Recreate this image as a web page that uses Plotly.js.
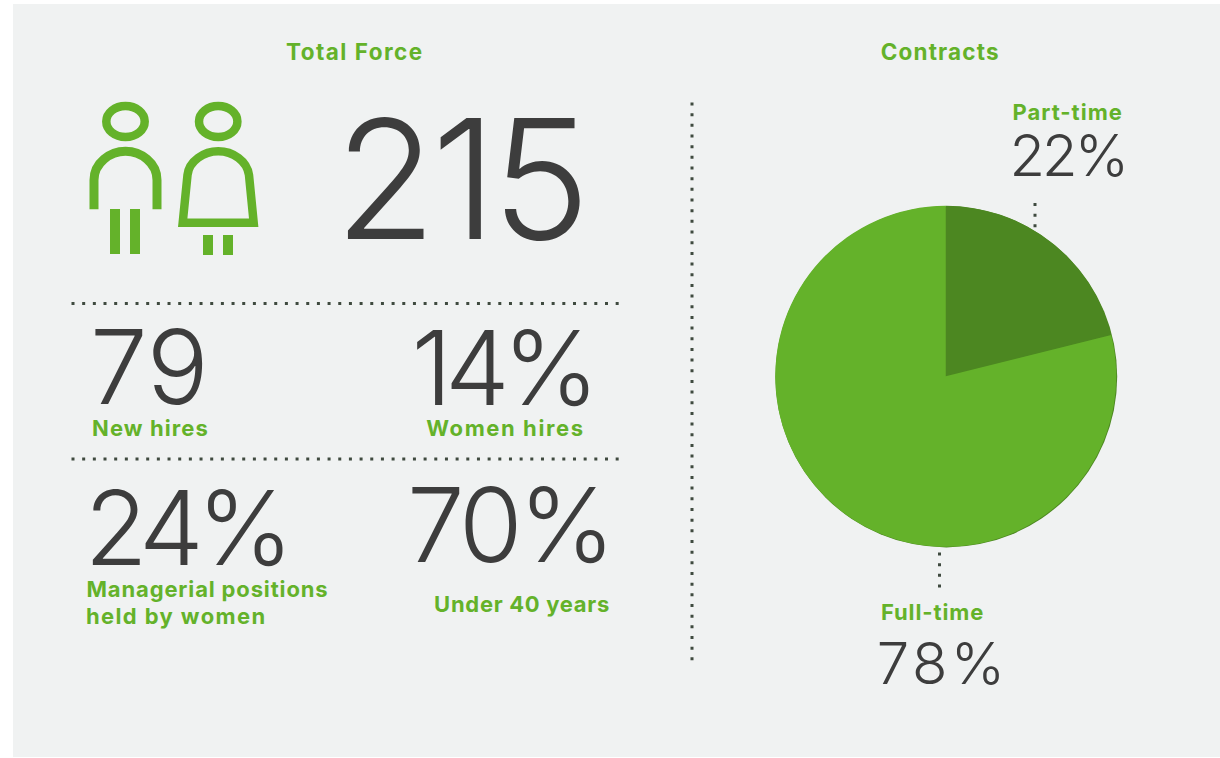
<!DOCTYPE html>
<html>
<head>
<meta charset="utf-8">
<script src="https://cdn.plot.ly/plotly-3.0.1.min.js"></script>
<style>
html,body{margin:0;padding:0;background:#fff;}
#chart{width:1220px;height:758px;}
</style>
</head>
<body>
<div id="chart"></div>
<script>
const pieCategories = ["Part-time", "Full-time"];
const pieValues = [21.1, 78.9];
const pieLabels = ["22%", "78%"];
const sectionTitles = ["Total Force", "Contracts"];
const totalForce = "215";
const statValues = ["79", "14%", "24%", "70%"];
const statLabels = ["New hires", "Women hires", "Managerial positions", "held by women", "Under 40 years"];

const GREEN = "#64B22A", DARK = "#4C8721", INK = "#3D3D3D", BG = "#F0F2F2";
const W = 1220, H = 758;
const FONT = "Inter, 'Open Sans', sans-serif";

function big(text, x, y, size, ls) {
  return {text, x, y, xref:"x", yref:"y", xanchor:"center", yanchor:"middle", showarrow:false,
    font:{family:FONT, size, color:INK, weight:300}, _ls:ls};
}
function label(text, x, y, ls, size) {
  return {text, x, y, xref:"x", yref:"y", xanchor:"center", yanchor:"middle", showarrow:false,
    font:{family:FONT, size:size||22, color:GREEN, weight:700}, _ls:ls};
}
const anns = [
  label(sectionTitles[0], 354.5, 51.5, 1.45, 22.5),
  label(sectionTitles[1], 940, 51.5, 1.15, 22.5),
  big(totalForce, 459.5, 178, 166, -5),
  big(statValues[0], 149.5, 366.5, 103, 0),
  big(statValues[1], 502, 367, 103, -7),
  big(statValues[2], 185.5, 527, 103, -7),
  big(statValues[3], 509, 524, 103, -4),
  label(statLabels[0], 150, 428, 1.1),
  label(statLabels[1], 505, 428, 1.6),
  label(statLabels[2], 207, 589, 0.85),
  label(statLabels[3], 176, 616, 1.4),
  label(statLabels[4], 521.5, 604, 0.7),
  label(pieCategories[0], 1067, 112, 1.0),
  big(pieLabels[0], 1067.5, 155, 58, -3),
  label(pieCategories[1], 932.5, 612, 0.9),
  big(pieLabels[1], 942, 663, 58, 3.5)
];
const lsValues = anns.map(a => a._ls);
anns.forEach(a => delete a._ls);

const dot = {color:"#3F4A3F", width:3, dash:"3px,7.67px"};
const line = (x0,y0,x1,y1) => ({type:"line", xref:"x", yref:"y", x0,y0,x1,y1, line:dot, layer:"above"});
const stroke = (path,w) => ({type:"path", xref:"x", yref:"y", path, line:{color:GREEN,width:w}, fillcolor:"rgba(0,0,0,0)"});
const bar = (x0,y0,x1,y1) => ({type:"rect", xref:"x", yref:"y", x0,y0,x1,y1, line:{width:0}, fillcolor:GREEN});
const head = cx => ({type:"circle", xref:"x", yref:"y", x0:cx-19.2, x1:cx+19.2, y0:106, y1:137, line:{color:GREEN,width:8.5}, fillcolor:"rgba(0,0,0,0)"});

const shapes = [
  {type:"rect", xref:"x", yref:"y", x0:13, y0:4, x1:1220, y1:757, line:{width:0}, fillcolor:BG, layer:"below"},
  {type:"circle", xref:"x", yref:"y", x0:775.4, x1:1117.2, y0:206.2, y1:547.4, line:{width:0}, fillcolor:DARK, layer:"below"},
  line(71.5,303.5,622,303.5),
  line(71.5,459,622,459),
  line(692,102.5,692,662),
  line(1035,203,1035,230),
  line(939.5,552.5,939.5,590),
  head(125.5), head(218.2),
  stroke("M94,209.3 V180 C94,163 110,151.3 125.5,151.3 C141,151.3 157,163 157,180 V209.3", 9),
  stroke("M182.7,222.8 L187.5,175 C189,161 204,151.3 218.2,151.3 C233,151.3 247,161 249,175 L253.7,222.8 Z", 8.5),
  bar(110,209,120,254), bar(130,209,140,254),
  bar(203,235,213,255), bar(223,235,233,255)
];

const data = [{
  type:"pie", labels:pieCategories, values:pieValues, sort:false, direction:"clockwise", rotation:0,
  marker:{colors:[DARK,GREEN], line:{width:0}}, textinfo:"none", hoverinfo:"label+percent", showlegend:false,
  domain:{x:[775/W,1116.5/W], y:[1-546.8/H,1-205.8/H]}
}];

const layout = {
  width:W, height:H, margin:{l:0,r:0,t:0,b:0,pad:0}, paper_bgcolor:"#fff", plot_bgcolor:"rgba(0,0,0,0)",
  xaxis:{range:[0,W], visible:false, fixedrange:true},
  yaxis:{range:[H,0], visible:false, fixedrange:true},
  showlegend:false, annotations:anns, shapes
};
Plotly.newPlot("chart", data, layout, {displayModeBar:false, staticPlot:true}).then(() => {
  document.querySelectorAll(".annotation").forEach((g,i) => {
    const t = g.querySelector("text");
    if (t) t.style.letterSpacing = lsValues[i] + "px";
  });
});
</script>
</body>
</html>
